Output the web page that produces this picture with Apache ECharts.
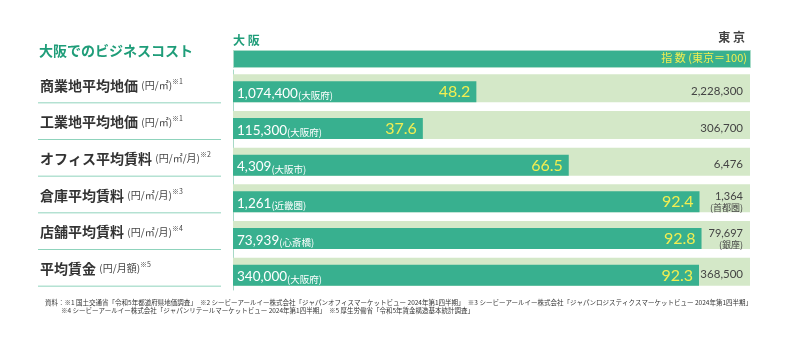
<!DOCTYPE html>
<html><head><meta charset="utf-8">
<script src="https://cdn.jsdelivr.net/npm/echarts@6/dist/echarts.min.js"></script>
<style>html,body{margin:0;padding:0;background:#fff}#c{width:800px;height:360px}</style>
</head><body><div id="c"></div>
<script>
const categories = ['商業地平均地価','工業地平均地価','オフィス平均賃料','倉庫平均賃料','店舗平均賃料','平均賃金'];
const units = ['(円/㎡)','(円/㎡)','(円/㎡/月)','(円/㎡/月)','(円/㎡/月)','(円/月額)'];
const notes = ['※1','※1','※2','※3','※4','※5'];
const osakaValues = [1074400,115300,4309,1261,73939,340000];
const osakaAreas = ['(大阪府)','(大阪府)','(大阪市)','(近畿圏)','(心斎橋)','(大阪府)'];
const tokyoValues = [2228300,306700,6476,1364,79697,368500];
const tokyoAreas = ['','','','(首都圏)','(銀座)',''];
const indexValues = [48.2,37.6,66.5,92.4,92.8,92.3];
const AXIS_MAX = 102.4;

const DARK = '#38b08f', LIGHT = '#d4e8c8', YEL = '#f2ee52', TITLE = '#1f9d79';
const CJK = '"Noto Sans CJK JP", sans-serif';
const NUM = 'Lato, "Noto Sans CJK JP", sans-serif';
const fmt = v => v.toLocaleString('en-US');

const chart = echarts.init(document.getElementById('c'), null, {renderer:'canvas'});
chart.setOption({
  animation:false,
  grid:{left:233,right:50,top:70,height:220},
  xAxis:{type:'value',min:0,max:AXIS_MAX,show:false},
  yAxis:{type:'category',data:categories,inverse:true,
    axisLine:{show:true,lineStyle:{color:'#a7d9c7',width:1}},
    axisTick:{show:false},
    axisLabel:{margin:193,align:'left',padding:[0,0,6,0],
      formatter:(v,i)=>'{t|'+v+'} {u|'+units[i]+'}{s|'+notes[i]+'}',
      rich:{
        t:{fontFamily:CJK,fontSize:14,fontWeight:'bold',color:'#333',lineHeight:20,verticalAlign:'middle'},
        u:{fontFamily:CJK,fontSize:10,color:'#444',lineHeight:20,verticalAlign:'middle'},
        s:{fontFamily:CJK,fontSize:7,color:'#444',lineHeight:20,verticalAlign:'middle',padding:[0,0,8,0]}
      }}
  },
  graphic:[
    {type:'text',left:39,top:44,style:{text:'大阪でのビジネスコスト',font:'bold 14px '+CJK,fill:TITLE}},
    {type:'text',left:233,top:34,style:{text:'大 阪',font:'bold 12px '+CJK,fill:TITLE}},
    {type:'text',right:55,top:31,style:{text:'東 京',font:'bold 12px '+CJK,fill:'#444'}},
    {type:'rect',left:233,top:50,shape:{width:517,height:17},style:{fill:DARK,stroke:'#a9dcc9',lineWidth:1}},
    {type:'text',right:53,top:52,style:{text:'指 数 (東京＝100)',font:'11px '+CJK,fill:YEL}},
    {type:'text',left:45,top:299,style:{text:'資料：※1 国土交通省「令和5年都道府県地価調査」　※2 シービーアールイー株式会社「ジャパンオフィスマーケットビュー 2024年第1四半期」　※3 シービーアールイー株式会社「ジャパンロジスティクスマーケットビュー 2024年第1四半期」',font:'6.5px '+CJK,fill:'#333'}},
    {type:'text',left:61,top:307,style:{text:'※4 シービーアールイー株式会社「ジャパンリテールマーケットビュー 2024年第1四半期」　※5 厚生労働省「令和5年賃金構造基本統計調査」',font:'6.5px '+CJK,fill:'#333'}}
  ],
  series:[{
    type:'custom',
    clip:false,
    data: categories.map((c,i)=>[indexValues[i], i]),
    encode:{x:0,y:1},
    renderItem:(params, api)=>{
      const i = params.dataIndex;
      const v = api.value(0), cat = api.value(1);
      const s = api.coord([0,cat]), e = api.coord([v,cat]), f = api.coord([AXIS_MAX,cat]);
      const c = s[1];
      const ch = [
        {type:'line',shape:{x1:s[0]-195,y1:c+14.5,x2:s[0]-12,y2:c+14.5},style:{stroke:'#8fd3bc',lineWidth:1}},
        {type:'rect',shape:{x:s[0],y:c-14,width:f[0]-s[0],height:28},style:{fill:LIGHT}},
        {type:'rect',shape:{x:s[0],y:c-7,width:e[0]-s[0],height:21},style:{fill:DARK}},
        {type:'text',x:s[0]+4,y:c+4,style:{text:'{n|'+fmt(osakaValues[i])+'}{a|'+osakaAreas[i]+'}',
          verticalAlign:'middle',align:'left',
          rich:{n:{fontFamily:NUM,fontSize:13.5,fill:'#fff',verticalAlign:'bottom',lineHeight:16},
                a:{fontFamily:CJK,fontSize:9.5,fill:'#fff',verticalAlign:'bottom',lineHeight:15}}}},
        {type:'text',x:e[0]-6,y:c+4,style:{text:v.toFixed(1),font:'16px '+NUM,fill:YEL,align:'right',verticalAlign:'middle'}}
      ];
      if (tokyoAreas[i]) {
        ch.push({type:'text',x:f[0]-7,y:c+4,style:{text:'{n|'+fmt(tokyoValues[i])+'}\n{a|'+tokyoAreas[i]+'}',
          align:'right',verticalAlign:'middle',
          rich:{n:{fontFamily:NUM,fontSize:11,fill:'#444',lineHeight:11,align:'right'},
                a:{fontFamily:CJK,fontSize:9,fill:'#444',lineHeight:11,align:'right'}}}});
      } else {
        ch.push({type:'text',x:f[0]-7,y:c+3,style:{text:fmt(tokyoValues[i]),font:'11.5px '+NUM,fill:'#444',align:'right',verticalAlign:'middle'}});
      }
      return {type:'group',children:ch};
    }
  }]
});
</script></body></html>
